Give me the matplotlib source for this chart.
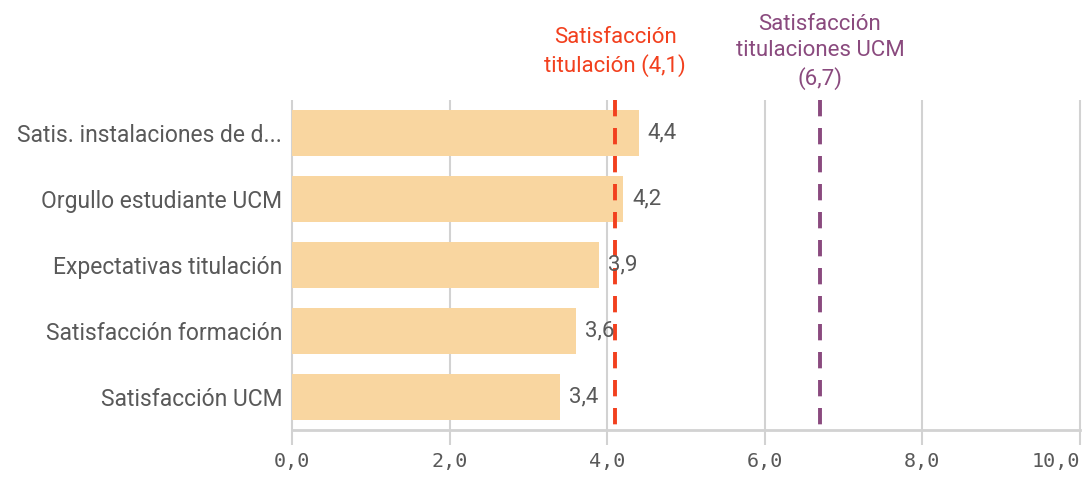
import matplotlib
matplotlib.use("Agg")
import matplotlib.pyplot as plt

categories = [
    "Satis. instalaciones de d...",
    "Orgullo estudiante UCM",
    "Expectativas titulación",
    "Satisfacción formación",
    "Satisfacción UCM",
]
values = [4.4, 4.2, 3.9, 3.6, 3.4]
ref_values = [4.1, 6.7]
ref_labels = ["Satisfacción\ntitulación (4,1)", "Satisfacción\ntitulaciones UCM\n(6,7)"]
ref_colors = ["#f2401e", "#8a4a7e"]
x_ticks = [0, 2, 4, 6, 8, 10]

BAR_COLOR = "#f9d6a0"
GRID = "#d2d2d2"
TEXT = "#595959"
FONT = "Roboto"

W, H = 1082, 491
fig = plt.figure(figsize=(W / 100, H / 100), dpi=100)
ax = fig.add_axes([292 / W, 1 - 430 / H, (1080 - 292) / W, (430 - 100) / H])

ypos = list(range(len(categories)))
ax.barh(ypos, values, height=0.7, color=BAR_COLOR, zorder=2)
ax.set_ylim(len(categories) - 0.5, -0.5)
ax.set_xlim(0, 10)

# vertical gridlines that extend below the axis as tick marks
for t in x_ticks:
    ax.plot([t, t], [-0.5, len(categories) - 0.5 + 0.23], color=GRID, lw=1.5,
            zorder=1, clip_on=False, solid_capstyle="butt")
ax.axhline(len(categories) - 0.5, color=GRID, lw=2, zorder=1, clip_on=False)

for s in ax.spines.values():
    s.set_visible(False)

ax.set_xticks(x_ticks)
ax.set_xticklabels([f"{t:.1f}".replace(".", ",") for t in x_ticks],
                   fontfamily="DejaVu Sans Mono", fontsize=14.5, color=TEXT)
ax.tick_params(axis="x", length=0, pad=16)
ax.get_xticklabels()[-1].set_horizontalalignment("right")
ax.set_yticks(ypos)
ax.set_yticklabels(categories, fontfamily=FONT, fontsize=16.5, color=TEXT)
ax.tick_params(axis="y", length=0, pad=7)

# reference lines with labels above the plot
for v, lab, c in zip(ref_values, ref_labels, ref_colors):
    ax.plot([v, v], [-0.5, len(categories) - 0.5], color=c, lw=2.8,
            dashes=(4.2, 3.0), zorder=3, clip_on=False)
    ax.annotate(lab, xy=(v, 0), xycoords=("data", "figure pixels"),
                xytext=(0, H - 52), textcoords=("offset pixels", "figure pixels"),
                ha="center", va="center", color=c, fontfamily=FONT,
                fontsize=16, linespacing=1.3)

for y, v in zip(ypos, values):
    ax.annotate(f"{v:.1f}".replace(".", ","), xy=(v, y), xytext=(9, 0),
                textcoords="offset pixels", ha="left", va="center",
                color=TEXT, fontfamily=FONT, fontsize=16, zorder=4)

fig.savefig("out.png", dpi=100, facecolor="white")
